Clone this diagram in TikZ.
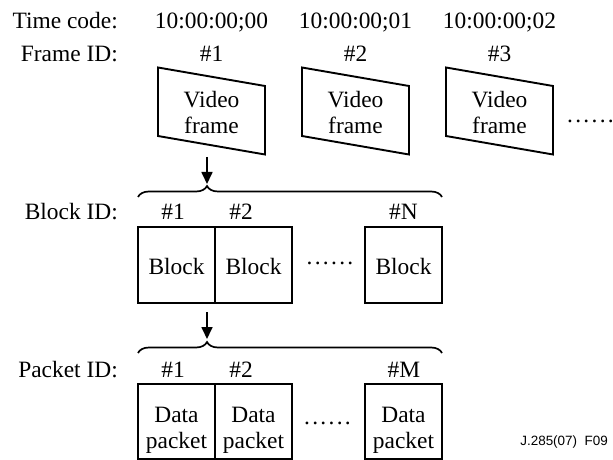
\documentclass[tikz,border=0pt]{standalone}
\usepackage{fontspec}
\setmainfont{Liberation Serif}
\newfontfamily\capfont{Liberation Sans}
\usetikzlibrary{decorations.pathreplacing,arrows.meta}

\begin{document}
\begin{tikzpicture}[x=1bp,y=-1bp,
  every node/.style={font=\fontsize{23.5}{26}\selectfont, inner sep=0pt},
  rowlabel/.style={anchor=base east},
  idlabel/.style={anchor=base},
  dotrow/.style={anchor=base},
  frameshape/.style={draw, line width=1.9bp, line join=miter},
  cell/.style={draw, line width=1.9bp, minimum width=77bp, minimum height=76bp},
  pcell/.style={cell, minimum height=75bp},
  bracket/.style={draw, line width=1.7bp, decorate,
    decoration={brace, amplitude=11bp, aspect=0.227}},
  flow/.style={line width=1.7bp, -{Triangle[length=12bp,width=11bp]}},
]
\useasboundingbox (0,0) rectangle (613,460);

% row captions
\node[rowlabel] (ltc)  at (118,29)  {Time code:};
\node[rowlabel] (lfid) at (118,62)  {Frame ID:};
\node[rowlabel] (lbid) at (118,220) {Block ID:};
\node[rowlabel] (lpid) at (118,377) {Packet ID:};

% video frames with time codes and frame numbers
\foreach \i/\x/\tc in {1/158/00, 2/302/01, 3/446/02}{
  \node[idlabel] (tc\i) at (\x+53.5,29) {10:00:00;\tc};
  \node[idlabel] (fid\i) at (\x+53.5,62) {\#\i};
  \draw[frameshape] (\x,67.5) -- (\x+107,86) -- (\x+107,154.5) -- (\x,136) -- cycle;
  \node[align=center] (f\i) at (\x+53.5,112.3) {Video\\frame};
}
\node[dotrow] (fdots) at (590.5,123) {.\kern2.3bp.\kern2.3bp.\kern2.3bp.\kern2.3bp.\kern2.3bp.};

% frame -> blocks
\coordinate (a1s) at (207,157);
\coordinate (b1tip) at (207,184);
\draw[flow] (a1s) -- (b1tip);
\draw[bracket] (138,197) -- (442,197);

% blocks
\node[idlabel] (bid1) at (173,220) {\#1};
\node[idlabel] (bid2) at (241,220) {\#2};
\node[idlabel] (bidN) at (403.5,220) {\#N};
\node[cell] (b1) at (176.5,265) {};
\node[cell] (b2) at (253.5,265) {};
\node[cell] (bN) at (403.5,265) {};
\foreach \b in {b1,b2,bN}{
  \node[anchor=base] (\b t) at ([yshift=-10bp]\b.center) {Block};
}
\node[dotrow] (bdots) at (330,265) {.\kern2.3bp.\kern2.3bp.\kern2.3bp.\kern2.3bp.\kern2.3bp.};

% block -> packets
\coordinate (a2s) at (207,312);
\coordinate (b2tip) at (207,339);
\draw[flow] (a2s) -- (b2tip);
\draw[bracket] (138,353) -- (442,353);

% data packets
\node[idlabel] (pid1) at (173,377) {\#1};
\node[idlabel] (pid2) at (241,377) {\#2};
\node[idlabel] (pidM) at (404,377) {\#M};
\node[pcell] (p1) at (176.5,421.5) {};
\node[pcell] (p2) at (253.5,421.5) {};
\node[pcell] (pM) at (403.5,421.5) {};
\foreach \p in {p1,p2,pM}{
  \node[align=center] (\p t) at ([yshift=-8.5bp]\p.center) {Data\\packet};
}
\node[dotrow] (pdots) at (327.5,424) {.\kern2.3bp.\kern2.3bp.\kern2.3bp.\kern2.3bp.\kern2.3bp.};

% figure reference
\node[anchor=base east, font=\capfont\fontsize{13.5}{15}\selectfont] (figref) at (608,445) {J.285(07)\ \ F09};
\end{tikzpicture}
\end{document}
